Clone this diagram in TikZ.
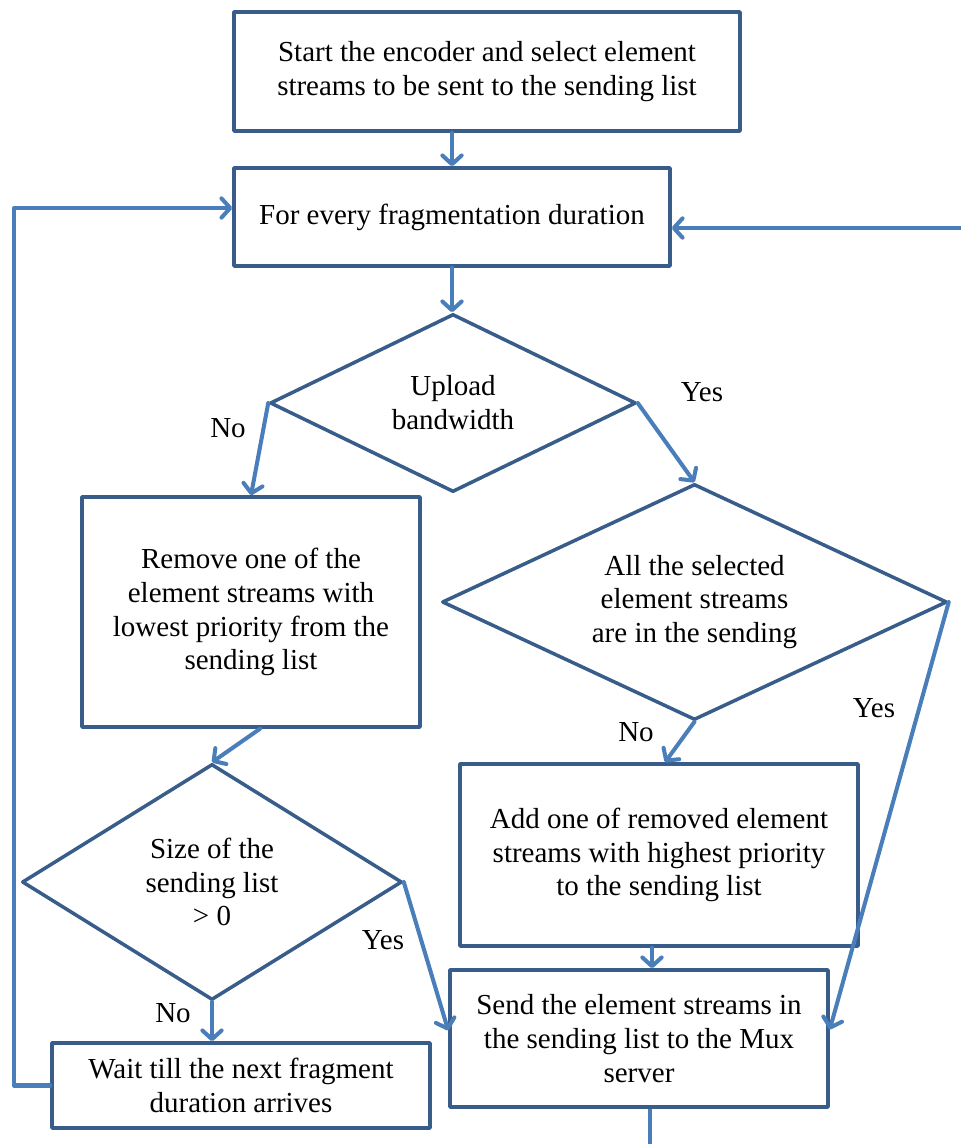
\documentclass[tikz,border=0pt]{standalone}
\usepackage{fontspec}
\setmainfont{Liberation Serif}
\usetikzlibrary{shapes.geometric,arrows.meta}
\definecolor{boxBlue}{HTML}{385D8A}
\definecolor{lineBlue}{HTML}{4A7EBB}

\begin{document}
\begin{tikzpicture}[x=0.02cm, y=-0.02cm, font=\fontsize{16.5}{19.3}\selectfont,
  dim/.style 2 args={minimum width=#1*0.02cm, minimum height=#2*0.02cm},
  box/.style={draw=boxBlue, line width=2pt, line join=round, align=center, inner sep=0pt},
  dia/.style={box, diamond},
  flow/.style={draw=lineBlue, line width=2.3pt, line cap=round, line join=round,
    -{Straight Barb[length=5pt, width=11pt, round]}}]
  \useasboundingbox (0,0) rectangle (961,1144);

  % boxes and decisions
  \node[box, dim={506}{119}] (start) at (487,71.5) {Start the encoder and select element\\streams to be sent to the sending list};
  \node[box, dim={436}{98}] (frag) at (452,217) {For every fragmentation duration};
  \node[dia, aspect=2.06, dim={366}{178}] (upload) at (453,403) {Upload\\bandwidth};
  \node[box, dim={338}{230}] (remove) at (251,612) {Remove one of the\\element streams with\\lowest priority from the\\sending list};
  \node[dia, aspect=2.14, dim={505}{236}] (selected) at (694.5,602) {All the selected\\element streams\\are in the sending};
  \node[box, dim={398}{182}] (add) at (659,855) {Add one of removed element\\streams with highest priority\\to the sending list};
  \node[dia, aspect=1.61, dim={380}{236}] (size) at (212,882) {Size of the\\sending list\\> 0};
  \node[box, dim={378}{137}] (send) at (639,1038.5) {Send the element streams in\\the sending list to the Mux\\server};
  \node[box, dim={378}{85}] (wait) at (241,1085.5) {Wait till the next fragment\\duration arrives};

  % labels
  \node (no1) at (228,428) {No};
  \node (yes1) at (702,392) {Yes};
  \node (no2) at (636,732) {No};
  \node (yes2) at (874,708) {Yes};
  \node (yes3) at (383,940) {Yes};
  \node (no3) at (173,1013) {No};

  \coordinate (back) at (961,228);
  \coordinate (loop) at (14,208);
  \coordinate (out) at (650,1144);

  % connectors
  \draw[flow] (start.south -| frag.north) -- (frag.north);
  \draw[flow] (back) -- (back -| frag.east);
  \draw[flow] (wait.west) -| (loop) -- (loop -| frag.west);
  \draw[flow] (frag.south) -- (frag.south |- upload.north);
  \draw[flow] (upload.west) -- (remove.north);
  \draw[flow] (upload.east) -- (selected.north);
  \draw[flow] (selected.south) -- ([xshift=0.12cm]add.north);
  \draw[flow] (selected.east) -- ([yshift=0.18cm]send.east);
  \draw[flow] ([xshift=-0.14cm]add.south) -- ([xshift=-0.14cm]add.south |- send.north);
  \draw[flow] ([xshift=0.18cm]remove.south) -- (size.north);
  \draw[flow] (size.east) -- ([yshift=0.16cm]send.west);
  \draw[flow] (size.south) -- (size.south |- wait.north);
  \draw[draw=lineBlue, line width=2.3pt] (out |- send.south) -- (out);
\end{tikzpicture}
\end{document}
